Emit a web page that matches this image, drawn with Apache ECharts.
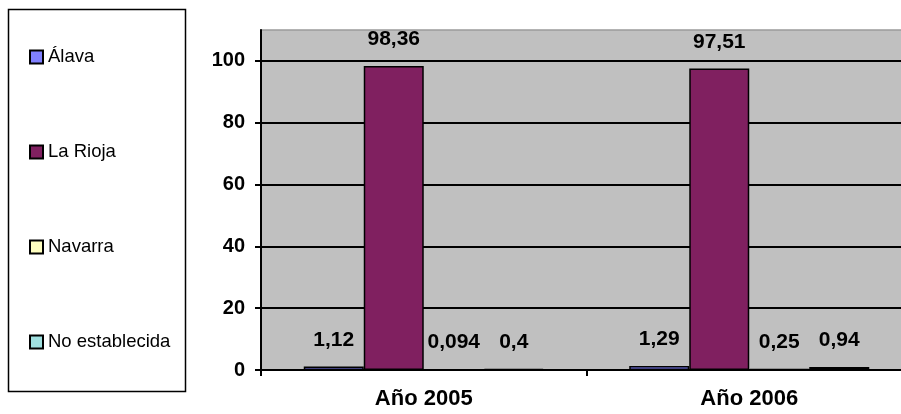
<!DOCTYPE html>
<html>
<head>
<meta charset="utf-8">
<script src="https://cdn.jsdelivr.net/npm/echarts@6/dist/echarts.min.js"></script>
<style>
html,body{margin:0;padding:0;background:#fff;overflow:hidden;width:901px;height:414px;}
#c{width:912px;height:414px;}
</style>
</head>
<body>
<div id="c"></div>
<script>
const categories = ['Año 2005', 'Año 2006'];
const seriesNames = ['Álava', 'La Rioja', 'Navarra', 'No establecida'];
const alava = [1.12, 1.29];
const laRioja = [98.36, 97.51];
const navarra = [0.094, 0.25];
const noEstablecida = [0.4, 0.94];
const yTicks = [0, 20, 40, 60, 80, 100];

const seriesValues = [alava, laRioja, navarra, noEstablecida];
const colors = ['#8080FF', '#802060', '#FFFFC0', '#A0E0E0'];
const FONT = "'Liberation Sans', Arial, sans-serif";

const chart = echarts.init(document.getElementById('c'), null, {renderer: 'canvas'});
chart.setOption({
  animation: false,
  backgroundColor: '#ffffff',
  textStyle: {fontFamily: FONT},
  graphic: [{
    type: 'rect',
    shape: {x: 8.5, y: 9.5, width: 177, height: 382},
    style: {fill: 'none', stroke: '#000', lineWidth: 1.5},
    z: 0
  }],
  legend: {
    orient: 'vertical',
    left: 24,
    top: 42,
    padding: 5,
    icon: 'rect',
    itemWidth: 13,
    itemHeight: 13,
    itemGap: 75,
    data: seriesNames,
    textStyle: {fontFamily: FONT, fontSize: 18.5, color: '#000', lineHeight: 20}
  },
  grid: {
    left: 261, right: 0, top: 30, bottom: 44,
    show: true,
    backgroundColor: '#C0C0C0',
    borderColor: '#9a9a9a',
    borderWidth: 1.5
  },
  xAxis: {
    type: 'category',
    data: categories,
    axisLine: {lineStyle: {color: '#000', width: 2}},
    axisTick: {show: true, length: 6, lineStyle: {color: '#000', width: 2}},
    axisLabel: {color: '#000', fontWeight: 'bold', fontSize: 22, fontFamily: FONT, margin: 18}
  },
  yAxis: {
    type: 'value',
    min: 0,
    max: 110,
    interval: 20,
    axisLine: {show: true, lineStyle: {color: '#000', width: 2}},
    axisTick: {show: true, length: 6, lineStyle: {color: '#000', width: 2}, customValues: yTicks},
    axisLabel: {color: '#000', fontWeight: 'bold', fontSize: 20, fontFamily: FONT, margin: 16,
      customValues: yTicks},
    splitLine: {show: true, lineStyle: {color: '#000', width: 2}}
  },
  series: seriesNames.map((name, i) => ({
    name: name,
    type: 'bar',
    data: seriesValues[i],
    barWidth: 60,
    barGap: '0%',
    itemStyle: {color: colors[i], borderColor: '#000', borderWidth: 1.5},
    label: {
      show: true,
      position: 'top',
      distance: 16,
      color: '#000',
      fontWeight: 'bold',
      fontSize: 21,
      fontFamily: FONT,
      formatter: p => String(p.value).replace('.', ',')
    }
  }))
});
</script>
</body>
</html>
